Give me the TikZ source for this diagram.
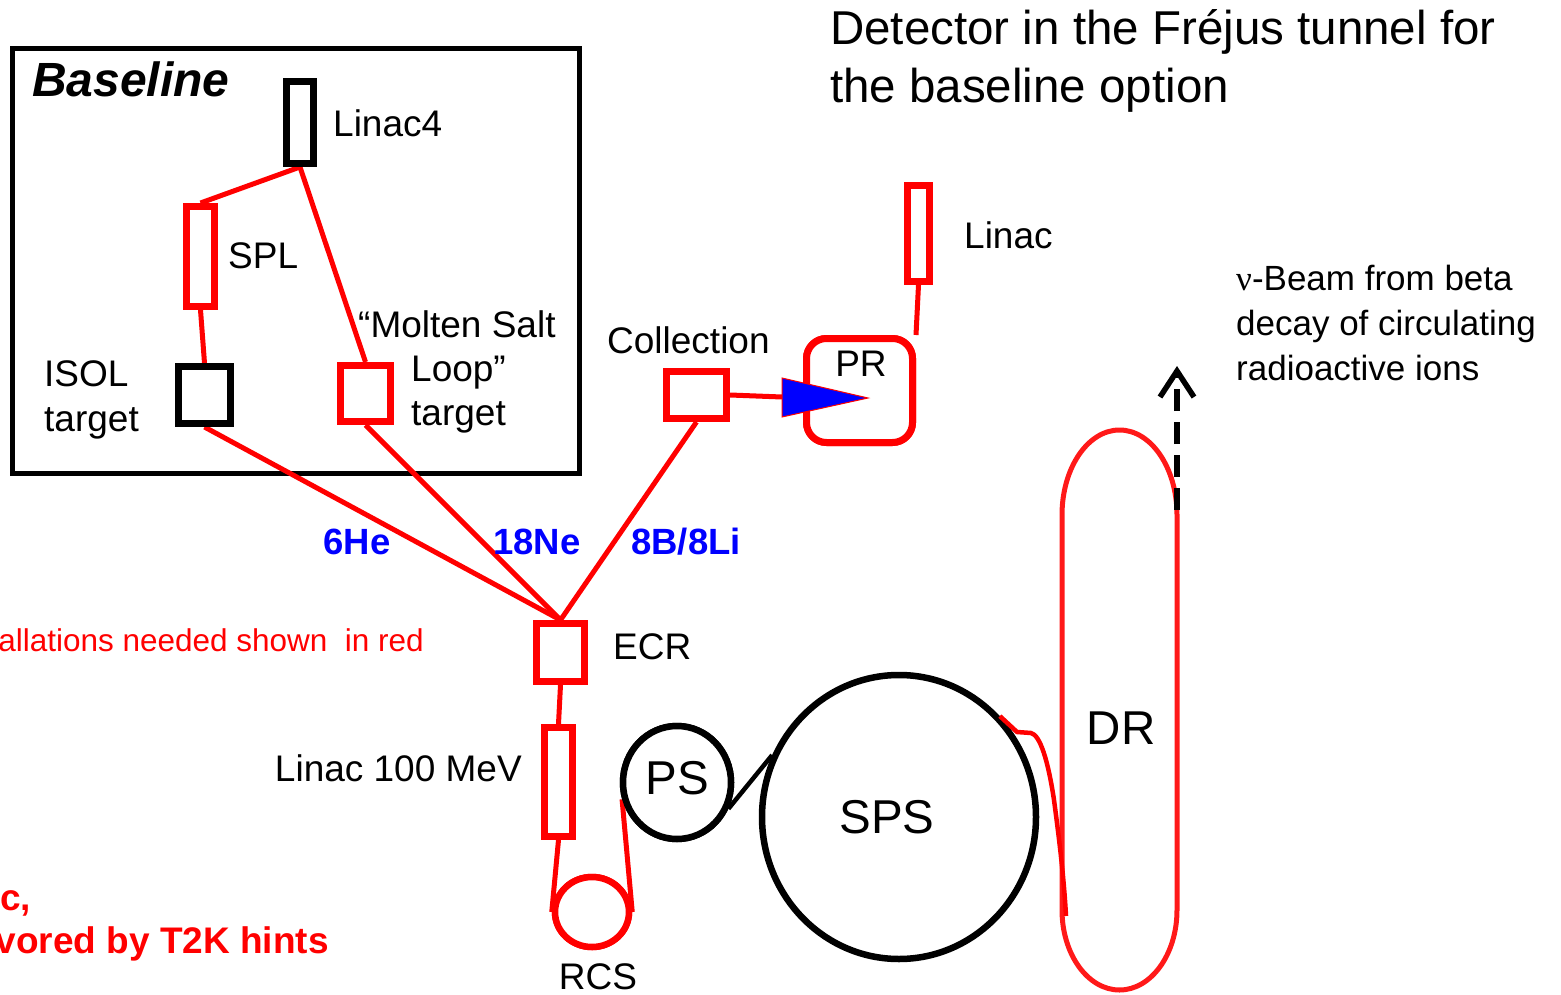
\documentclass[tikz,border=0pt]{standalone}
\usepackage{fontspec}
\setmainfont{Liberation Sans}
\newfontfamily\serifnu{Liberation Serif}
\usetikzlibrary{arrows.meta,shapes.geometric}
\begin{document}
\begin{tikzpicture}[x=1pt,y=1pt,
  rbox/.style={draw=red,fill=white,line width=7pt,inner sep=0pt,rectangle},
  kbox/.style={draw=black,fill=white,line width=7pt,inner sep=0pt,rectangle},
  ring/.style={ellipse,fill=white,line width=6.5pt,inner sep=0pt},
  conn/.style={draw=red,line width=5pt},
  lbl/.style={inner sep=0pt,font=\fontsize{37}{45}\selectfont},
  big/.style={inner sep=0pt,font=\fontsize{47.5}{58}\selectfont},
  note/.style={inner sep=0pt,font=\fontsize{35}{45}\selectfont},
  iso/.style={inner sep=0pt,text=blue,font=\fontsize{36.5}{45}\selectfont\bfseries}]
\useasboundingbox (0,0) rectangle (1561,-995);
% frame
\draw[line width=5.5pt] (12.5,-48.5) rectangle (579.5,-473.5);
% nodes
\node[kbox,minimum width=27,minimum height=82] (linac4) at (300,-122.5) {};
\node[rbox,minimum width=28,minimum height=100] (spl) at (200.5,-256.5) {};
\node[kbox,minimum width=52,minimum height=57] (isol) at (204.5,-395) {};
\node[rbox,minimum width=50,minimum height=56] (molten) at (365.5,-393.5) {};
\node[rbox,minimum width=60,minimum height=47] (coll) at (696.5,-395) {};
\node[rbox,minimum width=48,minimum height=58] (ecr) at (560.5,-652.5) {};
\node[rbox,minimum width=28,minimum height=109] (lin100) at (558.5,-782) {};
\node[rbox,minimum width=22,minimum height=96] (linacu) at (918.5,-233.5) {};
\node[rbox,rounded corners=20pt,minimum width=106,minimum height=104] (pr) at (859.5,-390.5) {};
\node[ring,draw=red,minimum width=74,minimum height=70] (rcs) at (592,-912) {};
\node[ring,draw=black,minimum width=108,minimum height=113] (ps) at (677,-782.5) {};
\node[ring,draw=black,minimum width=274,minimum height=284] (sps) at (899,-817) {};
\coordinate (tri) at (782,-397);
\coordinate (drin) at (1066,-916);
\coordinate (beamtail) at (1177,-510);
\coordinate (beamhead) at (1177,-366);
% connectors
\draw[conn] (linac4.south) -- (spl.north);
\draw[conn] (linac4.south) -- (molten.north);
\draw[conn] (spl.south) -- (isol.north);
\draw[conn] (isol.south) -- (ecr.north);
\draw[conn] (molten.south) -- (ecr.north);
\draw[conn] (coll.south) -- (ecr.north);
\draw[conn] (ecr.south) -- (lin100.north);
\draw[conn] (lin100.south) -- (rcs.west);
\draw[conn] (rcs.east) -- (ps.197);
\draw[conn] (coll.east) -- (tri);
\draw[conn] (linacu.south) -- (pr.north east);
% redraw boxes on top of connector ends
\node[kbox,minimum width=27,minimum height=82] at (linac4) {};
\node[rbox,minimum width=28,minimum height=100] at (spl) {};
\node[kbox,minimum width=52,minimum height=57] at (isol) {};
\node[rbox,minimum width=50,minimum height=56] at (molten) {};
\node[rbox,minimum width=60,minimum height=47] at (coll) {};
\node[rbox,minimum width=48,minimum height=58] at (ecr) {};
\node[rbox,minimum width=28,minimum height=109] at (lin100) {};
\node[rbox,minimum width=22,minimum height=96] at (linacu) {};
\node[rbox,rounded corners=20pt,minimum width=106,minimum height=104] at (pr) {};
\node[ring,draw=red,minimum width=74,minimum height=70] at (rcs) {};
\node[ring,draw=black,minimum width=108,minimum height=113] at (ps) {};
\draw[line width=4.5pt] (ps.-27) -- (sps.154);
% blue triangle
\filldraw[fill=blue,draw=red,line width=1pt] (tri) ++(0,19) -- ++(0,-39) -- (868,-398) -- cycle;
% DR ring
\draw[red!90!white,line width=5pt] (1062,-910) -- (1062,-515)
  arc[start angle=180,end angle=0,x radius=57.5,y radius=85] -- (1177,-910)
  arc[start angle=0,end angle=-180,x radius=57.5,y radius=80] -- cycle;
% SPS to DR
\draw[red,line width=4.5pt] (sps.45) -- (1017,-732) -- (1031,-733)
  .. controls (1040,-735) and (1048,-760) .. (1054,-800)
  .. controls (1060,-845) and (1064,-880) .. (drin);
% beam arrow
\draw[line width=5.5pt,dash pattern=on 22pt off 11pt,
  -{Straight Barb[length=26pt,width=34pt,line width=5.5pt]}] (beamtail) -- (beamhead);
% labels
\node[inner sep=0pt,anchor=base west,font=\fontsize{48}{58}\selectfont\bfseries\itshape] at (32,-97) {Baseline};
\node[lbl,anchor=base west] at (333,-137) {Linac4};
\node[lbl,anchor=base west] at (228,-269) {SPL};
\node[lbl,anchor=base west] at (44,-386) {ISOL};
\node[lbl,anchor=base west] at (44,-431) {target};
\node[lbl,anchor=base west] at (358,-337) {“Molten Salt};
\node[lbl,anchor=base west] at (411,-381) {Loop”};
\node[lbl,anchor=base west] at (411,-425) {target};
\node[lbl,anchor=base west] at (607,-353) {Collection};
\node[lbl,anchor=base] at (861,-376) {PR};
\node[lbl,anchor=base west] at (964,-249) {Linac};
\node[lbl,anchor=base west] at (613,-659) {ECR};
\node[lbl,anchor=base east] at (522,-781) {Linac 100 MeV};
\node[lbl,anchor=base] at (598,-989) {RCS};
\node[big,anchor=base] at (677,-794) {PS};
\node[big,anchor=base] at (887,-833) {SPS};
\node[big,anchor=base] at (1121,-744) {DR};
\node[big,anchor=base west] at (830,-45) {Detector in the Fréjus tunnel for};
\node[big,anchor=base west] at (830,-103) {the baseline option};
\node[note,anchor=base west] at (1236,-290) {{\serifnu ν}-Beam from beta};
\node[note,anchor=base west] at (1236,-335) {decay of circulating};
\node[note,anchor=base west] at (1236,-380) {radioactive ions};
\node[iso,anchor=base] at (357,-554) {6He};
\node[iso,anchor=base] at (537,-554) {18Ne};
\node[iso,anchor=base] at (686,-554) {8B/8Li};
\node[inner sep=0pt,anchor=base east,text=red,font=\fontsize{31.5}{40}\selectfont] at (424,-651) {allations needed shown\ \ in red};
\node[inner sep=0pt,anchor=base west,text=red,font=\fontsize{37}{45}\selectfont\bfseries] at (0,-910) {c,};
\node[inner sep=0pt,anchor=base east,text=red,font=\fontsize{37}{45}\selectfont\bfseries] at (329,-953) {vored by T2K hints};
\end{tikzpicture}
\end{document}
